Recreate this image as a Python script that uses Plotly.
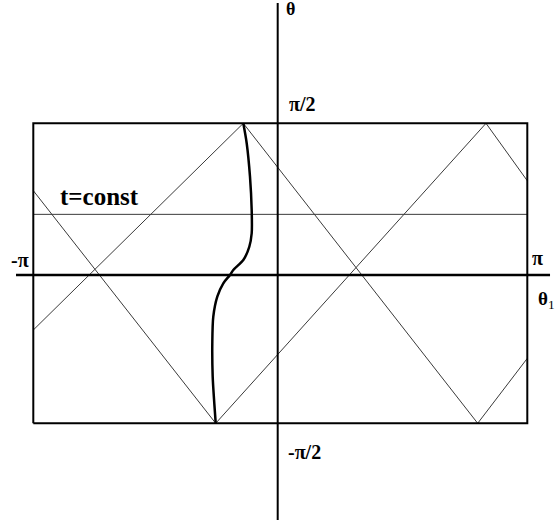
import plotly.graph_objects as go

# units: x in multiples of pi (theta_1 / pi), y in multiples of pi/2 (theta / (pi/2))
box_x = [-1, 1, 1, -1, -1]
box_y = [-1, -1, 1, 1, -1]

# coordinate axes (hand drawn, sit slightly off the box centre)
axis_x0 = -0.0105
axis_y0 = -0.0113
axis_h_x = [-1.07, 1.092]
axis_v_y = [-1.645, 1.802]

# t = const level
t_const_y = 0.393

# thin zigzag trajectories (left edge -> bottom/top -> ... -> right edge)
zig1_x = [-1, -0.2615, 0.8328, 1]
zig1_y = [0.551, -1, 1, 0.617]
zig2_x = [-1, -0.1498, 0.7992, 1]
zig2_y = [-0.378, 1, -1, -0.567]

# thick curve
curve_x = [-0.1498, -0.136, -0.1227, -0.1158, -0.1158, -0.1255, -0.1498, -0.1903,
           -0.2036, -0.2308, -0.2551, -0.2713, -0.2753, -0.2737, -0.2672, -0.2615]
curve_y = [1.0, 0.867, 0.644, 0.422, 0.267, 0.177, 0.0887, 0.022,
           -0.0113, -0.0667, -0.156, -0.289, -0.467, -0.689, -0.867, -1.0]

fig = go.Figure()

thin = dict(color='#3a3a3a', width=1)
fig.add_trace(go.Scatter(x=zig1_x, y=zig1_y, mode='lines', line=thin))
fig.add_trace(go.Scatter(x=zig2_x, y=zig2_y, mode='lines', line=thin))
fig.add_trace(go.Scatter(x=[-1, 1], y=[t_const_y, t_const_y], mode='lines', line=thin))

fig.add_trace(go.Scatter(x=box_x, y=box_y, mode='lines', line=dict(color='black', width=2)))
fig.add_trace(go.Scatter(x=axis_h_x, y=[axis_y0, axis_y0], mode='lines',
                         line=dict(color='black', width=2.5)))
fig.add_trace(go.Scatter(x=[axis_x0, axis_x0], y=axis_v_y, mode='lines',
                         line=dict(color='black', width=2)))

fig.add_trace(go.Scatter(x=curve_x, y=curve_y, mode='lines',
                         line=dict(color='black', width=2.5, shape='spline', smoothing=0.8)))

font = dict(family='Liberation Serif', size=20, color='black')
labels = [
    (0.0433, 1.765, '<b>θ</b>', 18),
    (0.088, 1.129, '<b>π/2</b>', 20),
    (0.096, -1.189, '<b>-π/2</b>', 20),
    (-1.054, 0.089, '<b>-π</b>', 20),
    (1.042, 0.102, '<b>π</b>', 20),
    (-0.73, 0.511, '<b>t=const</b>', 25),
]
for x, y, txt, size in labels:
    fig.add_annotation(x=x, y=y, text=txt, showarrow=False, font=dict(font, size=size))
fig.add_annotation(x=1.035, y=-0.178, text='<b>θ</b><sub>1</sub>', showarrow=False,
                   xanchor='left', font=dict(font, size=19))

fig.update_layout(
    width=560, height=529,
    margin=dict(l=0, r=0, t=0, b=0),
    paper_bgcolor='white', plot_bgcolor='white',
    showlegend=False,
    xaxis=dict(range=[-1.1348, 1.1324], visible=False),
    yaxis=dict(range=[-1.7047, 1.822], visible=False),
)

# drop the default page margin so the figure sits at the window's corner
fig.write_html("out.html", config={'displayModeBar': False},
               post_script="document.body.style.margin='0px';")
